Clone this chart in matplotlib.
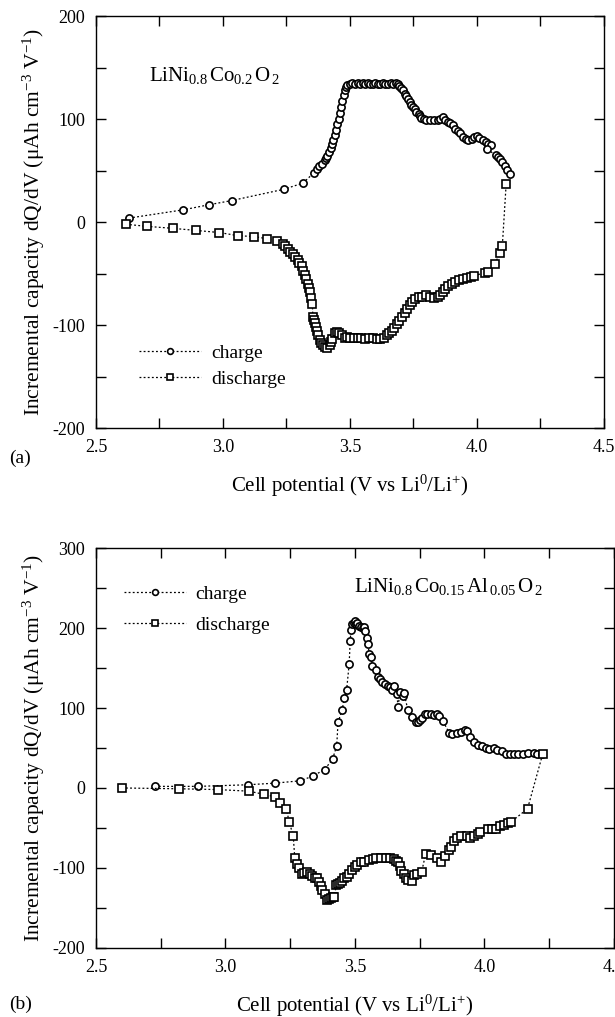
import matplotlib
matplotlib.use("Agg")
import matplotlib.pyplot as plt
from matplotlib.ticker import MultipleLocator

# --- panel (a): LiNi0.8Co0.2O2 -------------------------------------------
a_chg_v = [2.63, 2.843, 2.946, 3.034, 3.24, 3.315, 3.358, 3.37, 3.38, 3.39,
           3.40, 3.405, 3.41, 3.418, 3.425, 3.43, 3.435, 3.44, 3.445, 3.45,
           3.455, 3.46, 3.465, 3.47, 3.475, 3.48, 3.486, 3.49, 3.50, 3.51,
           3.52, 3.53, 3.54, 3.55, 3.56, 3.57, 3.58, 3.59, 3.60, 3.61,
           3.62, 3.63, 3.64, 3.65, 3.66, 3.67, 3.68, 3.69, 3.695, 3.70,
           3.71, 3.715, 3.72, 3.73, 3.735, 3.74, 3.75, 3.755, 3.76, 3.77,
           3.775, 3.78, 3.79, 3.80, 3.815, 3.83, 3.845, 3.855, 3.866, 3.875,
           3.885, 3.895, 3.906, 3.915, 3.925, 3.933, 3.945, 3.955, 3.965, 3.98,
           3.99, 4.0, 4.01, 4.024, 4.035, 4.045, 4.055, 4.04, 4.075, 4.083,
           4.09, 4.098, 4.11, 4.12, 4.13]
a_chg_q = [4, 12, 17, 21, 32, 38, 48, 52, 55, 57,
           60, 62, 64, 68, 72, 76, 80, 85, 90, 95,
           100, 106, 112, 118, 124, 128, 131, 133, 134, 135,
           134, 135, 134, 135, 134, 135, 134, 134, 135, 134,
           134, 135, 134, 134, 135, 134, 135, 134, 132, 130,
           128, 125, 123, 120, 117, 114, 112, 110, 107, 105,
           103, 101, 100, 99, 99, 99, 99, 100, 102, 99,
           97, 96, 94, 91, 89, 87, 83, 81, 80, 81,
           83, 84, 82, 80, 78, 76, 75, 71, 65, 63,
           61, 58, 55, 51, 47]

a_dis_v = [2.618, 2.70, 2.805, 2.895, 2.985, 3.058, 3.123, 3.174, 3.213, 3.235,
           3.244, 3.255, 3.265, 3.275, 3.285, 3.295, 3.30, 3.31, 3.317, 3.323,
           3.328, 3.334, 3.338, 3.342, 3.347, 3.352, 3.354, 3.358, 3.362, 3.366,
           3.37, 3.376, 3.382, 3.388, 3.394, 3.40, 3.41, 3.42, 3.425, 3.43,
           3.44, 3.45, 3.458, 3.467, 3.48, 3.49, 3.50, 3.515, 3.53, 3.545,
           3.56, 3.575, 3.59, 3.605, 3.62, 3.635, 3.645, 3.655, 3.665, 3.675,
           3.685, 3.695, 3.705, 3.715, 3.725, 3.735, 3.745, 3.755, 3.77, 3.785,
           3.80, 3.815, 3.83, 3.845, 3.855, 3.865, 3.875, 3.885, 3.90, 3.915,
           3.93, 3.945, 3.96, 3.975, 3.99, 4.03, 4.045, 4.07, 4.09, 4.10,
           4.115]
a_dis_q = [-2, -4, -6, -8, -10, -13, -14, -16, -18, -21,
           -23, -26, -29, -31, -34, -37, -40, -43, -47, -51,
           -55, -60, -64, -68, -74, -79, -92, -95, -98, -102,
           -106, -110, -114, -117, -119, -121, -122, -119, -116, -113,
           -108, -107, -108, -110, -112, -111, -112, -112, -112, -112,
           -113, -112, -112, -113, -113, -112, -110, -108, -106, -103,
           -99, -96, -92, -88, -84, -80, -77, -75, -73, -73,
           -71, -73, -74, -73, -71, -68, -65, -62, -60, -58,
           -56, -55, -54, -53, -52, -49, -48, -41, -30, -23,
           37]

# --- panel (b): LiNi0.8Co0.15Al0.05O2 ------------------------------------
b_chg_v = [2.727, 2.894, 3.086, 3.19, 3.29, 3.338, 3.383, 3.414, 3.43, 3.435,
           3.45, 3.46, 3.468, 3.478, 3.482, 3.485, 3.49, 3.495, 3.50, 3.505,
           3.51, 3.515, 3.522, 3.53, 3.535, 3.54, 3.545, 3.55, 3.556, 3.562,
           3.568, 3.58, 3.59, 3.598, 3.606, 3.615, 3.629, 3.635, 3.644, 3.65,
           3.662, 3.667, 3.674, 3.685, 3.69, 3.705, 3.72, 3.735, 3.745, 3.753,
           3.76, 3.77, 3.78, 3.795, 3.805, 3.816, 3.825, 3.84, 3.864, 3.875,
           3.894, 3.91, 3.924, 3.935, 3.946, 3.96, 3.976, 3.99, 4.006, 4.02,
           4.036, 4.05, 4.068, 4.085, 4.10, 4.115, 4.13, 4.15, 4.167, 4.19,
           4.205, 4.223]
b_chg_q = [2, 2, 4, 6, 9, 15, 23, 36, 53, 82,
           97, 112, 122, 155, 184, 197, 205, 207, 209, 205,
           206, 203, 202, 200, 201, 196, 188, 180, 168, 164,
           153, 147, 139, 136, 133, 130, 128, 126, 122, 128,
           118, 101, 120, 115, 119, 97, 89, 83, 82, 85,
           88, 93, 92, 93, 91, 93, 90, 84, 69, 68,
           69, 70, 73, 71, 64, 58, 54, 52, 50, 49,
           50, 48, 46, 43, 42, 42, 43, 43, 44, 44,
           43, 43]

b_dis_v = [2.60, 2.82, 2.97, 3.09, 3.15, 3.19, 3.21, 3.235, 3.247, 3.262,
           3.268, 3.275, 3.285, 3.295, 3.305, 3.315, 3.325, 3.333, 3.345, 3.353,
           3.36, 3.368, 3.375, 3.383, 3.394, 3.40, 3.409, 3.415, 3.42, 3.429,
           3.435, 3.444, 3.45, 3.459, 3.468, 3.477, 3.49, 3.50, 3.51, 3.522,
           3.535, 3.553, 3.57, 3.583, 3.60, 3.62, 3.635, 3.65, 3.66, 3.667,
           3.675, 3.68, 3.69, 3.697, 3.705, 3.72, 3.727, 3.74, 3.758, 3.773,
           3.795, 3.818, 3.833, 3.85, 3.864, 3.87, 3.883, 3.895, 3.91, 3.932,
           3.945, 3.962, 3.975, 3.985, 4.015, 4.03, 4.045, 4.06, 4.075, 4.09,
           4.105, 4.167, 4.225]
b_dis_q = [0, -1, -2, -4, -8, -11, -19, -26, -43, -60,
           -88, -95, -100, -107, -106, -105, -108, -110, -112, -113,
           -118, -123, -128, -133, -140, -139, -138, -137, -136, -121,
           -120, -119, -116, -113, -111, -108, -103, -99, -96, -93,
           -92, -90, -89, -88, -88, -88, -88, -89, -91, -93,
           -98, -104, -108, -113, -115, -117, -109, -107, -105, -83,
           -84, -88, -93, -85, -78, -74, -66, -63, -60, -60,
           -62, -60, -57, -55, -51, -51, -51, -48, -46, -44,
           -42, -26, 42]

plt.rcParams.update({
    "font.family": ["Liberation Serif", "DejaVu Serif"],
    "mathtext.fontset": "custom",
    "mathtext.rm": "Liberation Serif",
    "mathtext.it": "Liberation Serif:italic",
    "axes.unicode_minus": False,
    "axes.linewidth": 1.0,
    "font.size": 13,
})

XLABEL = "Cell potential (V vs Li$^{0}$/Li$^{+}$)"
YLABEL = "Incremental capacity dQ/dV (\u03bcAh cm$^{-3}$ V$^{-1}$)"
LINE = dict(color="black", lw=0.9, ls=(0, (1.5, 1.8)))


def style(ax, ylim, ystep):
    ax.set_xlim(2.5, 4.5)
    ax.set_ylim(*ylim)
    ax.xaxis.set_major_locator(MultipleLocator(0.5))
    ax.xaxis.set_minor_locator(MultipleLocator(0.25))
    ax.yaxis.set_major_locator(MultipleLocator(ystep))
    ax.yaxis.set_minor_locator(MultipleLocator(ystep / 2))
    ax.xaxis.set_major_formatter(lambda v, p: f"{v:.1f}")
    ax.tick_params(which="both", direction="in", top=True, right=True,
                   length=7, width=1.0, labelsize=13, pad=8)
    ax.set_xlabel(XLABEL, fontsize=15, labelpad=12)
    ax.set_ylabel(YLABEL, fontsize=15.5, labelpad=4)


def draw(ax, cv, cq, dv, dq):
    ax.plot(cv, cq, marker="o", ms=5.2, mfc="white", mec="black", mew=1.2,
            label="charge", **LINE)
    ax.plot(dv, dq, marker="s", ms=6.2, mfc="white", mec="black", mew=1.2,
            label="discharge", **LINE)


def legend(ax, **kw):
    ax.legend(frameon=False, numpoints=1, handlelength=3.2,
              handletextpad=0.5, markerscale=0.8, fontsize=14, **kw)


fig = plt.figure(figsize=(6.15, 10.17), dpi=100)

ax1 = fig.add_axes([0.156, 0.579, 0.826, 0.405])
draw(ax1, a_chg_v, a_chg_q, a_dis_v, a_dis_q)
style(ax1, (-200, 200), 100)
ax1.text(0.104, 0.855, r"LiNi$_{0.8\,}$Co$_{0.2\,}$O$_{\,2}$",
         transform=ax1.transAxes, fontsize=15, va="center")
legend(ax1, loc="lower left", bbox_to_anchor=(0.05, 0.055), labelspacing=0.45)
fig.text(0.015, 0.545, "(a)", fontsize=14)

ax2 = fig.add_axes([0.156, 0.068, 0.842, 0.393])
draw(ax2, b_chg_v, b_chg_q, b_dis_v, b_dis_q)
style(ax2, (-200, 300), 100)
ax2.text(0.863, 0.905, r"LiNi$_{0.8\,}$Co$_{0.15\,}$Al$_{\,0.05\,}$O$_{\,2}$",
         transform=ax2.transAxes, fontsize=15, ha="right", va="center")
legend(ax2, loc="upper left", bbox_to_anchor=(0.02, 0.95), labelspacing=0.65)
fig.text(0.015, 0.008, "(b)", fontsize=14)

fig.savefig("out.png", dpi=100)
